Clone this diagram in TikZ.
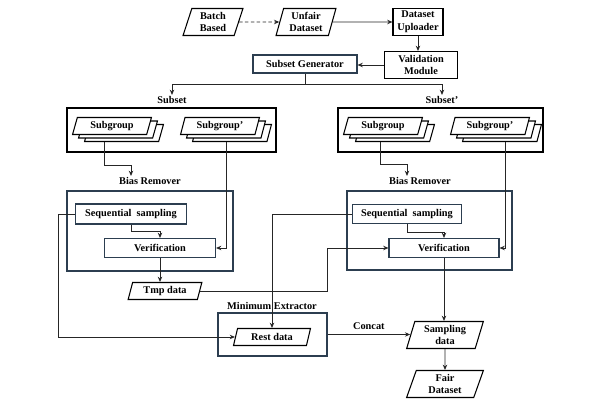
\documentclass[tikz,border=0pt]{standalone}
\usepackage{fontspec}
\setmainfont{Liberation Serif}
\usetikzlibrary{shapes.geometric,arrows.meta,shadows}

\definecolor{boxblue}{RGB}{44,62,80}
\newcommand{\pxu}{0.03cm}

\begin{document}
\begin{tikzpicture}[x=0.03cm, y=-0.03cm,
    font=\fontsize{8.8}{10.8}\selectfont\bfseries,
    >={Stealth[length=4.5pt,width=3.8pt]},
    link/.style={->, line width=0.75pt, draw=black!85},
    plainbox/.style={draw=black, line width=0.9pt, fill=white, inner sep=1pt, align=center},
    bluebox/.style={draw=boxblue, line width=0.9pt, fill=white, inner sep=1pt, align=center},
    databox/.style={trapezium, trapezium left angle=75, trapezium right angle=105,
        trapezium stretches=true, draw=black, line width=0.9pt, fill=white,
        inner sep=1pt, align=center},
    stackbox/.style={databox, minimum width=79*\pxu, minimum height=17*\pxu,
        copy shadow={shadow xshift=0.36cm, shadow yshift=-0.21cm,
            draw=black, fill=white, line width=0.9pt},
        copy shadow={shadow xshift=0.18cm, shadow yshift=-0.105cm,
            draw=black, fill=white, line width=0.9pt}},
    lbl/.style={inner sep=1pt}
]
\useasboundingbox (0,0) rectangle (608,405);

% containers
\node[plainbox, minimum width=209*\pxu, minimum height=44*\pxu] (subsetL) at (171.5,130) {};
\node[plainbox, minimum width=205*\pxu, minimum height=44*\pxu] (subsetR) at (440.5,130) {};
\node[bluebox, minimum width=166*\pxu, minimum height=80*\pxu] (brL) at (150,231) {};
\node[bluebox, minimum width=165*\pxu, minimum height=79*\pxu] (brR) at (429.5,230.5) {};
\node[bluebox, minimum width=109*\pxu, minimum height=43*\pxu] (minbox) at (272.5,334.5) {};

\node[lbl] (subsetLlbl) at (172,100) {Subset};
\node[lbl] (subsetRlbl) at (442,100) {Subset'};
\node[lbl] (brLlbl) at (150,181) {Bias Remover};
\node[lbl] (brRlbl) at (420,181) {Bias Remover};
\node[lbl] (minlbl) at (272,306) {Minimum Extractor};

% top row
\node[databox, minimum width=60*\pxu, minimum height=27*\pxu] (batch) at (213,22) {Batch\\Based};
\node[databox, minimum width=60*\pxu, minimum height=27*\pxu] (unfair) at (306,22) {Unfair\\Dataset};
\node[plainbox, minimum width=50*\pxu, minimum height=27*\pxu] (uploader) at (418,22) {Dataset\\Uploader};
\node[plainbox, minimum width=73*\pxu, minimum height=27*\pxu] (validation) at (421,65) {Validation\\Module};
\node[bluebox, minimum width=104*\pxu, minimum height=18*\pxu] (subgen) at (305,64) {Subset Generator};

% subgroups
\node[stackbox] (sgL1) at (112,126) {Subgroup};
\node[stackbox] (sgL2) at (220,126) {Subgroup'};
\node[stackbox] (sgR1) at (383,126) {Subgroup};
\node[stackbox] (sgR2) at (490,126) {Subgroup'};

% bias removers
\node[bluebox, minimum width=111*\pxu, minimum height=20*\pxu] (seqL) at (131,214) {Sequential~~sampling};
\node[bluebox, minimum width=111*\pxu, minimum height=19*\pxu] (verL) at (160,248) {Verification};
\node[bluebox, minimum width=109*\pxu, minimum height=19*\pxu] (seqR) at (407,214) {Sequential~~sampling};
\node[bluebox, minimum width=110*\pxu, minimum height=19*\pxu] (verR) at (444,248) {Verification};

% data
\node[databox, minimum width=74*\pxu, minimum height=17*\pxu] (tmp) at (165,291) {Tmp data};
\node[databox, minimum width=77*\pxu, minimum height=17*\pxu] (rest) at (272,337) {Rest data};
\node[databox, minimum width=77*\pxu, minimum height=27*\pxu] (sampling) at (445,335) {Sampling\\data};
\node[databox, minimum width=77*\pxu, minimum height=27*\pxu] (fair) at (445,384) {Fair\\Dataset};

% connectors
\draw[link, densely dashed] (batch.east) -- (unfair.west);
\draw[link] (unfair.east) -- (uploader.west);
\draw[link] (uploader.south) -- (uploader.south |- validation.north);
\draw[link] (validation.west) -- (validation.west -| subgen.east);
\draw[line width=0.75pt, draw=black!85] (subgen.south) -- ++(0,11) coordinate (split);
\draw[link] (split) -| (subsetLlbl.north);
\draw[link] (split) -| (subsetRlbl.north);

\draw[link] ([shift={(-8,7)}]sgL1.south) -- ++(0,23) -| ([xshift=-19*\pxu]brLlbl.north);
\draw[link] ([shift={(6,7)}]sgL2.south) |- (verL.east);
\draw[link] ([shift={(-3,7)}]sgR1.south) -- ++(0,22) -| ([xshift=-13*\pxu]brRlbl.north);
\draw[link] ([shift={(15,7)}]sgR2.south) |- (verR.east);

\draw[link] (seqL.south) -- ++(0,7) -| (verL.north);
\draw[link] (seqR.south) -- ++(0,8) -| (verR.north);
\draw[link] (verL.south) -- (verL.south |- tmp.north);
\draw[link] (tmp.east) -- (tmp.east -| minbox.east) |- (verR.west);
\draw[link] (seqL.west) -- ++(-17,0) |- (rest.west);
\draw[link] (seqR.west) -| (rest.north);
\draw[link] (minbox.east) -- (minbox.east -| sampling.west)
    node[midway, above=3pt, lbl] (concat) {Concat};
\draw[link] (verR.south) -- (verR.south |- sampling.north);
\draw[link] (sampling.south) -- (fair.north);
\end{tikzpicture}
\end{document}
